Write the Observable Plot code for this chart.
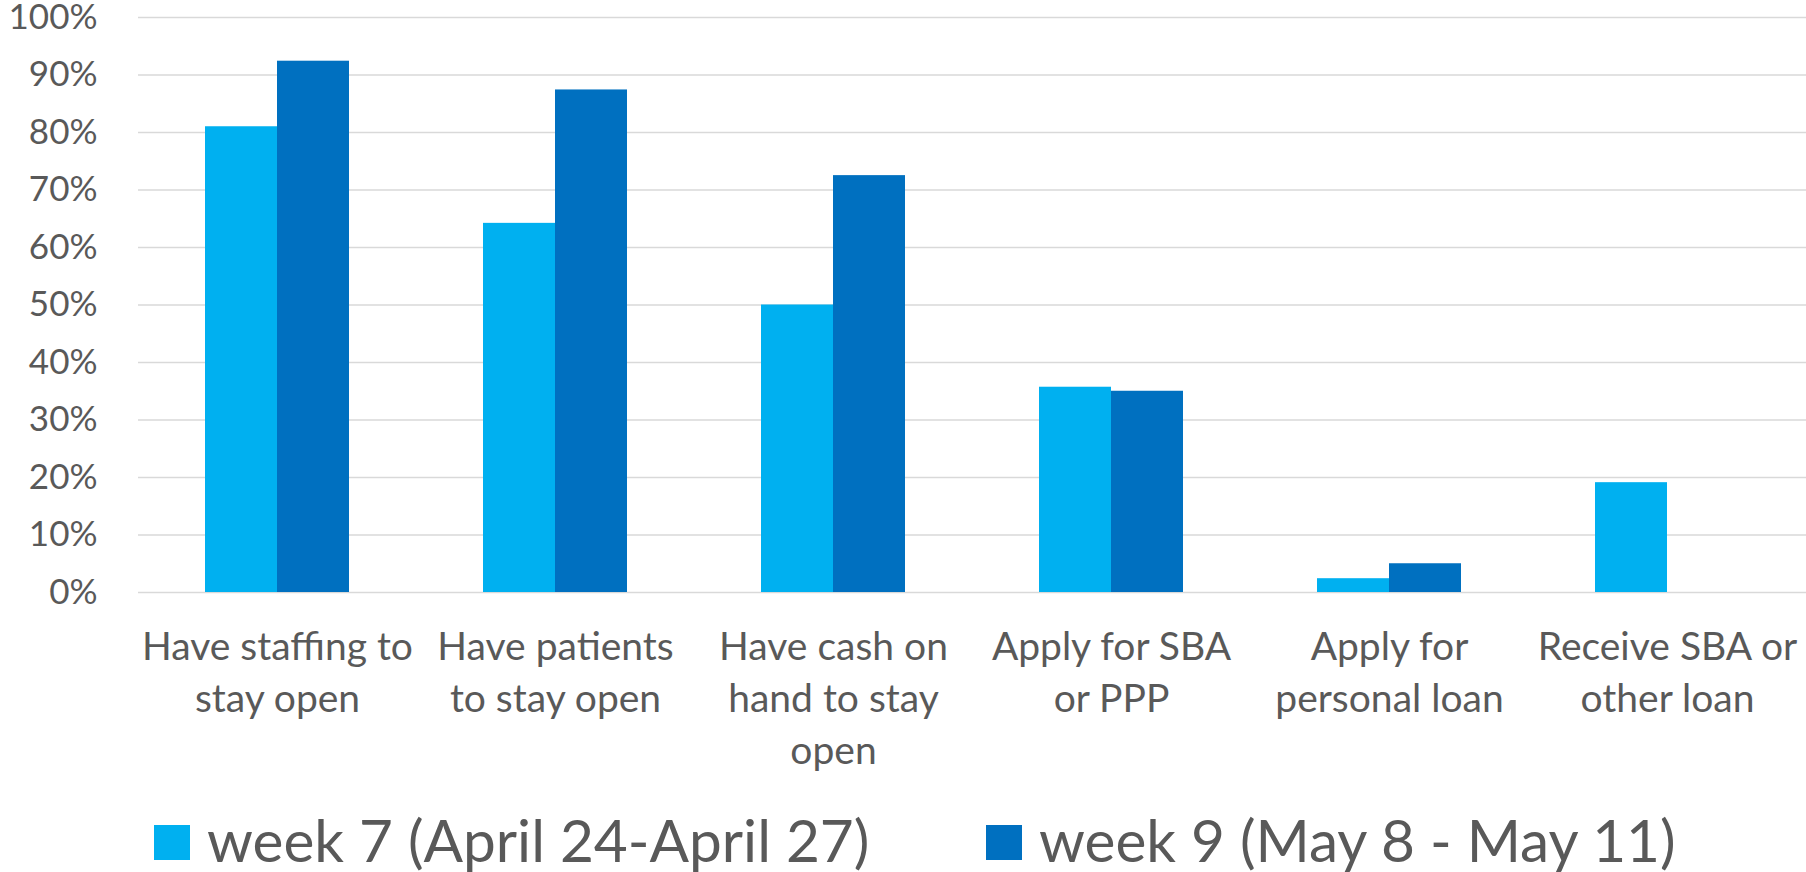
<!DOCTYPE html>
<html>
<head>
<meta charset="utf-8">
<script src="https://cdn.jsdelivr.net/npm/d3@7"></script>
<script src="https://cdn.jsdelivr.net/npm/@observablehq/plot@0.6"></script>
<style>
  html, body { margin: 0; padding: 0; background: #fff; overflow: hidden; }
  #legend { position: relative; width: 1806px; height: 77px; font-family: Lato, sans-serif; color: #595959; }
  .sw { position: absolute; width: 36px; height: 35px; top: 30px; }
  .lab { position: absolute; white-space: nowrap; font-size: 58.5px; line-height: 58px; top: 15px; }
</style>
</head>
<body>
<div id="chart"></div>
<div id="legend"></div>
<script>
const categories = [
  "Have staffing to\nstay open",
  "Have patients\nto stay open",
  "Have cash on\nhand to stay\nopen",
  "Apply for SBA\nor PPP",
  "Apply for\npersonal loan",
  "Receive SBA or\nother loan"
];
const series = ["week 7 (April 24-April 27)", "week 9 (May 8 - May 11)"];
const week7 = [0.810, 0.642, 0.500, 0.357, 0.024, 0.191];
const week9 = [0.924, 0.874, 0.725, 0.350, 0.050, null];
const yTicks = [0, 0.1, 0.2, 0.3, 0.4, 0.5, 0.6, 0.7, 0.8, 0.9, 1.0];
const colors = ["#00B0F0", "#0070C0"];

const data = categories.flatMap((c, i) => [
  {category: c, series: series[0], value: week7[i]},
  {category: c, series: series[1], value: week9[i]}
]).filter(d => d.value != null);

const chart = Plot.plot({
  width: 1806,
  height: 795,
  marginTop: 17,
  marginBottom: 203,
  marginLeft: 138,
  marginRight: 0,
  style: {fontFamily: "Lato, sans-serif", color: "#595959", background: "#fff", overflow: "visible"},
  fx: {domain: categories, padding: 0, axis: null, label: null},
  x: {domain: series, paddingInner: 0, paddingOuter: 0.91, axis: null},
  y: {domain: [0, 1], axis: null},
  color: {domain: series, range: colors},
  marks: [
    Plot.ruleY(yTicks, {y: d => d, stroke: "#d9d9d9", strokeWidth: 1.6}),
    Plot.barY(data, {fx: "category", x: "series", y: "value", fill: "series"}),
    Plot.text(yTicks, {
      fx: () => categories[0], y: d => d, text: d => d3.format(".0%")(d),
      frameAnchor: "left", textAnchor: "end", dx: -41,
      fontSize: 35, fill: "#595959"
    }),
    Plot.text(categories, {
      fx: d => d, text: d => d,
      frameAnchor: "bottom", lineAnchor: "top", dy: 31,
      lineHeight: 1.33, fontSize: 39, fill: "#595959"
    })
  ]
});
document.getElementById("chart").appendChild(chart);

const legend = document.getElementById("legend");
const lx = [154, 986];
series.forEach((s, i) => {
  const sw = document.createElement("div");
  sw.className = "sw";
  sw.style.left = lx[i] + "px";
  sw.style.background = colors[i];
  legend.appendChild(sw);
  const lab = document.createElement("div");
  lab.className = "lab";
  lab.style.left = (lx[i] + 53) + "px";
  lab.textContent = s;
  legend.appendChild(lab);
});
</script>
</body>
</html>
